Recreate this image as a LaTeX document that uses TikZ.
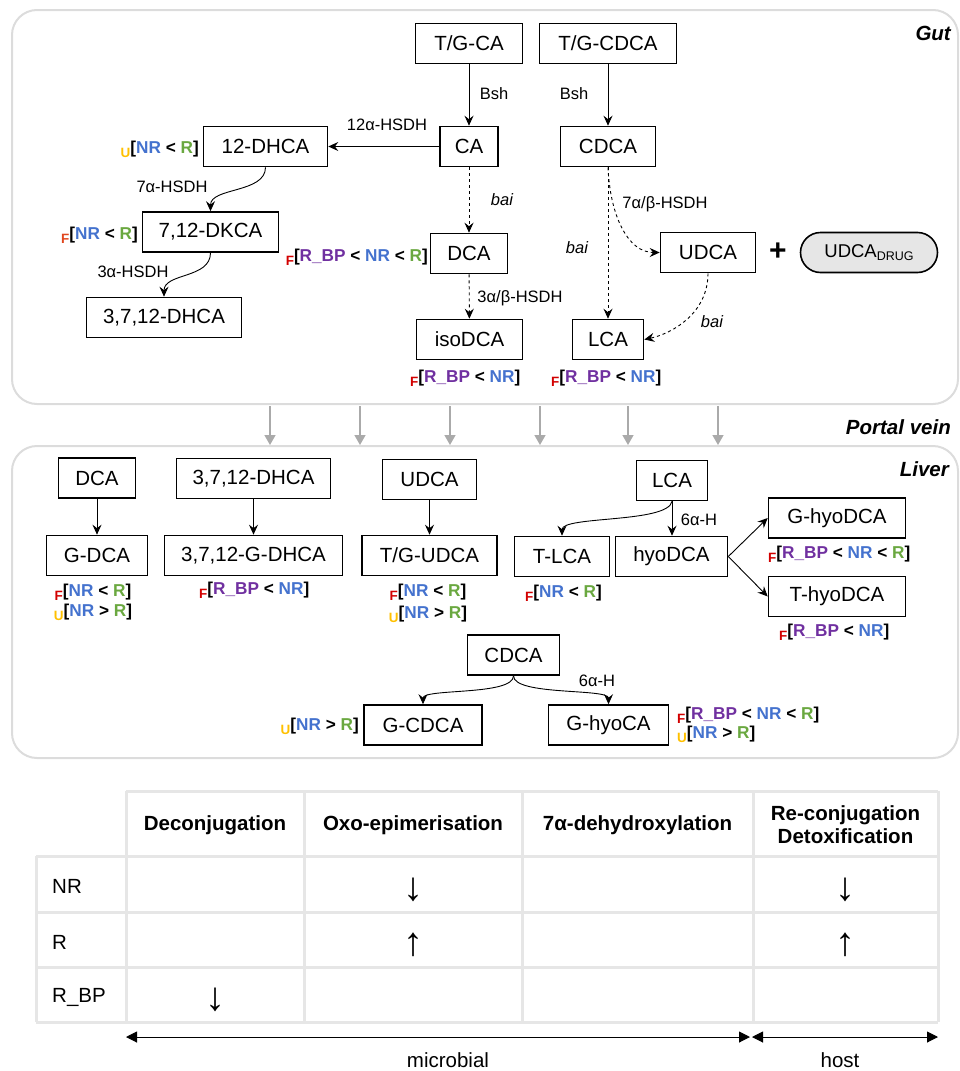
\documentclass[tikz,border=0pt]{standalone}
\usepackage{fontspec}
\setmainfont{Liberation Sans}
\usetikzlibrary{arrows.meta}
\definecolor{cNR}{RGB}{68,114,206}
\definecolor{cR}{RGB}{106,168,64}
\definecolor{cBP}{RGB}{112,48,160}
\definecolor{cF}{RGB}{210,0,0}
\definecolor{cFo}{RGB}{224,70,30}
\definecolor{cU}{RGB}{255,192,0}
\definecolor{frameg}{RGB}{220,220,220}
\definecolor{tabg}{RGB}{230,230,230}
\definecolor{pvg}{RGB}{170,170,170}
\definecolor{drugfill}{RGB}{230,230,230}
\newcommand{\sF}{{\fontsize{13.5}{13.5}\selectfont\bfseries\color{cF}\raisebox{-4.5pt}{F}}}
\newcommand{\sFo}{{\fontsize{13.5}{13.5}\selectfont\bfseries\color{cFo}\raisebox{-4.5pt}{F}}}
\newcommand{\sU}{{\fontsize{13.5}{13.5}\selectfont\bfseries\color{cU}\raisebox{-4.5pt}{U}}}
\newcommand{\tNR}{\textcolor{cNR}{NR}}
\newcommand{\tR}{\textcolor{cR}{R}}
\newcommand{\tBP}{\textcolor{cBP}{R\_BP}}
\tikzset{
  box/.style={draw, line width=1.6pt, minimum height=40pt, inner sep=0pt, font=\fontsize{20.5}{22}\selectfont},
  lab/.style={inner sep=0pt, font=\fontsize{16.5}{18}\selectfont},
  ilab/.style={inner sep=0pt, font=\fontsize{16.5}{18}\selectfont\itshape},
  ann/.style={inner sep=0pt, font=\fontsize{17.2}{18}\selectfont\bfseries},
  arr/.style={line width=0.9pt, -{Stealth[length=10pt,width=9pt,inset=3.5pt]}},
  darr/.style={arr, dash pattern=on 3pt off 3pt},
  pvarr/.style={pvg, line width=1.4pt, -{Triangle[length=10pt,width=11pt]}},
  region/.style={inner sep=0pt, font=\fontsize{20.5}{22}\selectfont\bfseries\itshape},
  th/.style={inner sep=0pt, align=center, font=\fontsize{20.5}{23}\selectfont\bfseries},
  td/.style={inner sep=0pt, font=\fontsize{20.5}{22}\selectfont},
  tarrow/.style={inner sep=0pt, font=\fontsize{40}{40}\selectfont},
  tline/.style={tabg, line width=3pt},
  frame/.style={frameg, line width=2pt, rounded corners=25pt}
}
\begin{document}
\begin{tikzpicture}[x=1pt,y=-1pt]
\useasboundingbox (0,0) rectangle (960,1071);
% frames
\draw[frame] (12,10) rectangle (958,404);
\draw[frame] (12,446) rectangle (958,758);
\node[region, anchor=east] (gutlab) at (951,33) {Gut};
\node[region, anchor=east] (pvlab) at (951,427) {Portal vein};
\node[region, anchor=east] (livlab) at (949,469) {Liver};

% ---------- Gut ----------
\node[box, minimum width=107pt] (tgca) at (469,43.5) {T/G-CA};
\node[box, minimum width=137pt] (tgcdca) at (608,43.5) {T/G-CDCA};
\node[box, minimum width=58pt] (ca) at (469,146.5) {CA};
\node[box, minimum width=95pt] (cdca) at (608,146.5) {CDCA};
\node[box, minimum width=124pt] (dhca12) at (265.5,146.5) {12-DHCA};
\node[box, minimum width=136pt] (dkca) at (210.5,232) {7,12-DKCA};
\node[box, minimum width=155pt] (dhca3712) at (164,317.5) {3,7,12-DHCA};
\node[box, minimum width=77pt] (dca) at (469,253.5) {DCA};
\node[box, minimum width=106pt] (isodca) at (469.5,339.5) {isoDCA};
\node[box, minimum width=71pt] (lca) at (608,339.5) {LCA};
\node[box, minimum width=95pt] (udca) at (708,252.5) {UDCA};
\node[box, minimum width=137pt, fill=drugfill, rounded corners=20pt, font=\fontsize{18.5}{20}\selectfont] (drug) at (869,252.5) {UDCA\raisebox{-3pt}{\fontsize{12.5}{12.5}\selectfont DRUG}};
\node[inner sep=0pt, font=\fontsize{30}{30}\selectfont\bfseries] (plus) at (778,252) {+};

\draw[arr] (tgca) -- (ca);
\draw[arr] (tgcdca) -- (cdca);
\draw[arr] (ca) -- (dhca12);
\draw[arr] (dhca12.south) .. controls +(0,26) and +(0,-24) .. (dkca.north);
\draw[arr] (dkca.south) .. controls +(0,26) and +(0,-24) .. (dhca3712.north);
\draw[darr] (ca) -- (dca);
\draw[darr] (dca) -- (isodca);
\draw[darr] (cdca) -- (lca);
\draw[darr] (cdca.south) .. controls +(2,48) and +(-32,0) .. (udca.west);
\draw[darr] (udca.south) .. controls +(0,40) and +(28,-6) .. (lca.east);

\node[lab] (bsh1) at (494,94) {Bsh};
\node[lab] (bsh2) at (574,94) {Bsh};
\node[lab] (l12a) at (387,125) {12α-HSDH};
\node[lab] (l7a) at (172,187) {7α-HSDH};
\node[lab] (l3a) at (133,272) {3α-HSDH};
\node[ilab] (bai1) at (502,200) {bai};
\node[ilab] (bai2) at (577,248) {bai};
\node[lab] (l3ab) at (520,298) {3α/β-HSDH};
\node[lab] (l7ab) at (665,204) {7α/β-HSDH};
\node[ilab] (bai3) at (712,322) {bai};

\node[ann, anchor=base east] (a1) at (199,153) {\sU[\tNR{} < \tR]};
\node[ann, anchor=base east] (a2) at (138,239) {\sFo[\tNR{} < \tR]};
\node[ann, anchor=base east] (a3) at (428,261) {\sF[\tBP{} < \tNR{} < \tR]};
\node[ann, anchor=base west] (a4) at (410,382) {\sF[\tBP{} < \tNR]};
\node[ann, anchor=base west] (a5) at (551,382) {\sF[\tBP{} < \tNR]};

% ---------- Portal vein ----------
\foreach \i/\x in {1/270,2/360,3/450,4/540,5/628,6/718}{
  \coordinate (pvt\i) at (\x,406);
  \coordinate (pvb\i) at (\x,445);
  \draw[pvarr] (pvt\i) -- (pvb\i);
}

% ---------- Liver ----------
\node[box, minimum width=77pt] (ldca) at (97,478) {DCA};
\node[box, minimum width=101pt] (gdca) at (97,555.5) {G-DCA};
\node[box, minimum width=154pt] (ldhca) at (253.5,478.5) {3,7,12-DHCA};
\node[box, minimum width=178pt] (gdhca) at (253.5,555.5) {3,7,12-G-DHCA};
\node[box, minimum width=94pt] (ludca) at (429.5,479.5) {UDCA};
\node[box, minimum width=135pt] (tgudca) at (429.5,555.5) {T/G-UDCA};
\node[box, minimum width=71pt] (llca) at (672,480.5) {LCA};
\node[box, minimum width=95pt] (tlca) at (562,556.5) {T-LCA};
\node[box, minimum width=112pt] (hyodca) at (671.5,556.5) {hyoDCA};
\node[box, minimum width=137pt] (ghyodca) at (837,518) {G-hyoDCA};
\node[box, minimum width=137pt] (thyodca) at (837,596.5) {T-hyoDCA};
\node[box, minimum width=92pt] (lcdca) at (513.5,655) {CDCA};
\node[box, minimum width=118pt] (gcdca) at (423,725) {G-CDCA};
\node[box, minimum width=120pt] (ghyoca) at (608.5,725) {G-hyoCA};

\draw[arr] (ldca) -- (gdca);
\draw[arr] (ldhca) -- (gdhca);
\draw[arr] (ludca) -- (tgudca);
\draw[arr] (llca.south) -- (llca.south |- hyodca.north);
\draw[arr] (llca.south) .. controls +(-4,22) and +(0,-20) .. (tlca.north);
\draw[arr] (hyodca.east) -- (ghyodca.west);
\draw[arr] (hyodca.east) -- (thyodca.west);
\draw[arr] (lcdca.south) .. controls +(0,20) and +(0,-16) .. (gcdca.north);
\draw[arr] (lcdca.south) .. controls +(0,20) and +(0,-16) .. (ghyoca.north);

\node[lab] (h6a) at (699,520) {6α-H};
\node[lab] (h6b) at (597,681) {6α-H};

\node[ann, anchor=base] (b1) at (93,596) {\sF[\tNR{} < \tR]};
\node[ann, anchor=base] (b2) at (93,616) {\sU[\tNR{} > \tR]};
\node[ann, anchor=base west] (b3) at (199,594) {\sF[\tBP{} < \tNR]};
\node[ann, anchor=base] (b4) at (428,596) {\sF[\tNR{} < \tR]};
\node[ann, anchor=base] (b5) at (428,618) {\sU[\tNR{} > \tR]};
\node[ann, anchor=base west] (b6) at (525,597) {\sF[\tNR{} < \tR]};
\node[ann, anchor=base west] (b7) at (768,558) {\sF[\tBP{} < \tNR{} < \tR]};
\node[ann, anchor=base west] (b8) at (779,636) {\sF[\tBP{} < \tNR]};
\node[ann, anchor=base east] (b9) at (359,730) {\sU[\tNR{} > \tR]};
\node[ann, anchor=base west] (b10) at (677,719) {\sF[\tBP{} < \tNR{} < \tR]};
\node[ann, anchor=base west] (b11) at (677,738) {\sU[\tNR{} > \tR]};

% ---------- Table ----------
\foreach \y in {856,912,967,1022} \draw[tline] (36,\y) -- (938,\y);
\draw[tline] (126,791) -- (938,791);
\draw[tline] (36,856) -- (36,1022);
\foreach \x in {126,304,522,753,938} \draw[tline] (\x,791) -- (\x,1022);

\node[th] (h1) at (215,825) {Deconjugation};
\node[th] (h2) at (413,825) {Oxo-epimerisation};
\node[th] (h3) at (637.5,825) {7α-dehydroxylation};
\node[th] (h4) at (845.5,824.5) {Re-conjugation\\Detoxification};
\node[td, anchor=west] (r1) at (52,886) {NR};
\node[td, anchor=west] (r2) at (52,942) {R};
\node[td, anchor=west] (r3) at (52,997) {R\_BP};
\node[tarrow] (t1) at (413,890) {↓};
\node[tarrow] (t2) at (413,945) {↑};
\node[tarrow] (t3) at (215,1000) {↓};
\node[tarrow] (t4) at (845,890) {↓};
\node[tarrow] (t5) at (845,945) {↑};

\coordinate (mL) at (126,1037);
\coordinate (mR) at (750,1037);
\coordinate (hL) at (752,1037);
\coordinate (hR) at (938,1037);
\draw[line width=1pt, {Triangle[length=11pt,width=11pt]}-{Triangle[length=11pt,width=11pt]}] (mL) -- (mR);
\draw[line width=1pt, {Triangle[length=11pt,width=11pt]}-{Triangle[length=11pt,width=11pt]}] (hL) -- (hR);
\node[td, anchor=base] (micro) at (448,1067) {microbial};
\node[td, anchor=base] (host) at (840,1067) {host};
\end{tikzpicture}
\end{document}
